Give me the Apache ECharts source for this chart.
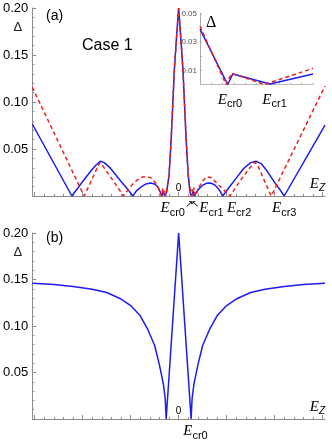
<!DOCTYPE html>
<html style="height: 100%">
    <head>
        <meta charset="utf-8">
        <title>Case 1</title>
    </head>
    <body style="height: 100%; margin: 0; background: #fff">
        <div id="container" style="width: 332px; height: 441px"></div>
        <script src="https://cdn.jsdelivr.net/npm/echarts@6/dist/echarts.min.js"></script>
        <script>
            // panel (a): gap vs E_z, blue solid and red dashed
            let blueA = [
                [-3.05, 0.0766], [-2.225, 0], [-2.1, 0.0085], [-2.0, 0.0155], [-1.9, 0.022], [-1.8, 0.0285],
                [-1.72, 0.033], [-1.635, 0.037], [-1.55, 0.0355], [-1.45, 0.031], [-1.35, 0.025], [-1.2, 0.0155],
                [-1.05, 0.0065], [-0.954, 0], [-0.88, 0.0055], [-0.78, 0.0098], [-0.68, 0.0128], [-0.58, 0.0138],
                [-0.5, 0.0128], [-0.43, 0.0095], [-0.35, 0], [-0.32, 0.005], [-0.29, 0], [-0.25, 0.004],
                [-0.2, 0.022], [-0.156, 0.06], [-0.09, 0.134], [-0.045, 0.168], [0, 0.2], [0.045, 0.168],
                [0.09, 0.134], [0.156, 0.06], [0.2, 0.022], [0.24, 0.003], [0.27, 0], [0.3, 0.005], [0.33, 0],
                [0.4, 0.0065], [0.5, 0.0115], [0.58, 0.0135], [0.66, 0.0138], [0.75, 0.012], [0.84, 0.007],
                [0.92, 0], [1.05, 0.009], [1.2, 0.019], [1.35, 0.029], [1.5, 0.0355], [1.61, 0.037],
                [1.72, 0.0345], [1.85, 0.026], [2.0, 0.0145], [2.1, 0.0075], [2.2, 0], [3.05, 0.0755]
            ];
            let redA = [
                [-3.05, 0.1156], [-1.97, 0], [-1.85, 0.013], [-1.75, 0.024], [-1.68, 0.032], [-1.64, 0.0355],
                [-1.58, 0.032], [-1.45, 0.0225], [-1.3, 0.0115], [-1.15, 0], [-1.05, 0.007], [-0.95, 0.013],
                [-0.85, 0.0175], [-0.75, 0.0203], [-0.66, 0.0208], [-0.57, 0.019], [-0.48, 0.014], [-0.4, 0.006],
                [-0.36, 0], [-0.33, 0.0085], [-0.31, 0], [-0.29, 0.006], [-0.27, 0], [-0.2, 0.022],
                [-0.156, 0.06], [-0.09, 0.134], [-0.045, 0.168], [0, 0.2], [0.045, 0.168], [0.09, 0.134],
                [0.156, 0.06], [0.2, 0.022], [0.26, 0], [0.28, 0.007], [0.3, 0], [0.32, 0.009], [0.35, 0],
                [0.42, 0.009], [0.5, 0.016], [0.59, 0.0205], [0.68, 0.0195], [0.8, 0.0135], [0.95, 0.006],
                [1.07, 0], [1.2, 0.01], [1.35, 0.021], [1.5, 0.031], [1.59, 0.036], [1.65, 0.0325],
                [1.78, 0.017], [1.93, 0], [3.05, 0.117]
            ];

            // inset of panel (a)
            let blueInset = [[0, 0.039], [0.245, 0], [0.29, 0.0074], [0.62, 0.0003], [1, 0.0074]];
            let redInset = [[0, 0.041], [0.23, 0], [0.28, 0.0079], [0.57, 0], [1, 0.0114]];

            // panel (b)
            let blueB = [
                [-3.05, 0.146], [-2.6, 0.1445], [-2.2, 0.1425], [-1.8, 0.1395], [-1.5, 0.136], [-1.2, 0.129],
                [-1.0, 0.122], [-0.8, 0.111], [-0.65, 0.097], [-0.5, 0.079], [-0.4, 0.058], [-0.32, 0.038],
                [-0.28, 0.022], [-0.26, 0], [-0.13, 0.1], [0, 0.2], [0.13, 0.1], [0.26, 0], [0.28, 0.022],
                [0.32, 0.038], [0.4, 0.058], [0.5, 0.079], [0.65, 0.097], [0.8, 0.111], [1.0, 0.122],
                [1.2, 0.129], [1.5, 0.136], [1.8, 0.1395], [2.2, 0.1425], [2.6, 0.1445], [3.05, 0.146]
            ];

            // axis marks
            let majorTicks = [-3, -2, -1, 0, 1, 2, 3];
            let minorTicks = [];
            for (let i = -15; i <= 15; i++) {
                if (i % 5 !== 0) minorTicks.push(i / 5);
            }
            let labelsA1 = { "-0.04": "{e|E}{s|cr0}{a|↗}", "1.26": "{e|E}{s|cr2}" };
            let labelsA2 = { "0.6": "{a|↖}{e|E}{s|cr1}", "2.2": "{e|E}{s|cr3}" };
            let labelsB = { "0.35": "{e|E}{s|cr0}" };
            let labelsInset = { "0.265": "{e|E}{s|cr0}", "0.66": "{e|E}{s|cr1}" };

            const BLUE = "#1c1cf0";
            const RED = "#f21c1c";
            const AXIS = "#8c8c8c";
            const SANS = "Liberation Sans";
            const SERIF = "Liberation Serif";

            let rich = {
                e: { fontFamily: SERIF, fontStyle: "italic", fontSize: 15, color: "#000" },
                s: { fontFamily: SANS, fontSize: 11, color: "#000", padding: [8, 0, 0, 0] },
                a: { fontFamily: SANS, fontSize: 10, color: "#000", padding: [0, 0, 8, 0] }
            };

            function mainX(grid) {
                return {
                    type: "value", gridIndex: grid, position: "bottom", min: -3.05, max: 3.05,
                    axisLine: { onZero: false, lineStyle: { color: AXIS, width: 1 } },
                    axisTick: { inside: true, length: 4, customValues: majorTicks, lineStyle: { color: AXIS } },
                    axisLabel: { inside: true, customValues: [0], formatter: () => "0", fontFamily: SANS, fontSize: 10, color: "#000", margin: 3 },
                    splitLine: { show: false },
                    name: "{e|E}{z|Z}",
                    nameLocation: "end",
                    nameGap: 0,
                    nameTextStyle: {
                        align: "right", verticalAlign: "bottom", padding: [0, 0, 3, 0],
                        rich: {
                            e: { fontFamily: SERIF, fontStyle: "italic", fontSize: 15, color: "#000" },
                            z: { fontFamily: SANS, fontStyle: "italic", fontSize: 10, color: "#000", padding: [7, 0, 0, 0] }
                        }
                    }
                };
            }

            function labelX(grid, labels, ticks) {
                return {
                    type: "value", gridIndex: grid, position: "bottom", min: -3.05, max: 3.05,
                    axisLine: { show: false, onZero: false },
                    axisTick: { show: ticks, inside: true, length: 2, customValues: minorTicks, lineStyle: { color: AXIS } },
                    axisLabel: {
                        customValues: Object.keys(labels).map(Number),
                        formatter: v => labels[String(v)] || "",
                        margin: 3, rich: rich, hideOverlap: false
                    },
                    splitLine: { show: false }
                };
            }

            function mainY(grid) {
                return {
                    type: "value", gridIndex: grid, position: "left", min: 0, max: 0.2, interval: 0.05,
                    axisLine: { show: true, onZero: false, lineStyle: { color: AXIS } },
                    axisTick: { inside: true, length: 4, lineStyle: { color: AXIS } },
                    minorTick: { show: true, splitNumber: 5, length: 2, lineStyle: { color: AXIS } },
                    axisLabel: { formatter: v => (v === 0 ? "" : v.toFixed(2)), fontFamily: SANS, fontSize: 13, color: "#000", margin: 4 },
                    splitLine: { show: false },
                    name: "Δ",
                    nameLocation: "end",
                    nameGap: -19,
                    nameTextStyle: { align: "right", verticalAlign: "middle", padding: [0, 10, 0, 0], fontFamily: SANS, fontSize: 13, color: "#222" }
                };
            }

            function drawChart() {
                let dom = document.getElementById("container");
                let chart = echarts.init(dom, null, { renderer: "canvas" });
                let option = {
                    animation: false,
                    backgroundColor: "#fff",
                    title: [
                        { text: "(a)", left: 41, top: 4, textStyle: { fontFamily: SANS, fontSize: 14, fontWeight: "normal", color: "#000" } },
                        { text: "Case 1", left: 77, top: 33, textStyle: { fontFamily: SANS, fontSize: 16, fontWeight: "normal", color: "#000" } },
                        { text: "(b)", left: 41, top: 226, textStyle: { fontFamily: SANS, fontSize: 14, fontWeight: "normal", color: "#000" } }
                    ],
                    grid: [
                        { left: 32, top: 8, width: 293, height: 188 },
                        { left: 200, top: 13.5, width: 113, height: 71 },
                        { left: 32, top: 233, width: 293, height: 186 }
                    ],
                    xAxis: [
                        mainX(0),
                        labelX(0, labelsA1, true),
                        {
                            type: "value", gridIndex: 1, position: "bottom", min: 0, max: 1, interval: 0.1,
                            axisLine: { onZero: false, lineStyle: { color: "#bbb" } },
                            axisTick: { inside: true, length: 2, lineStyle: { color: "#bbb" } },
                            axisLabel: {
                                customValues: Object.keys(labelsInset).map(Number),
                                formatter: v => labelsInset[String(v)] || "",
                                margin: 6, rich: rich, hideOverlap: false
                            },
                            splitLine: { show: false }
                        },
                        mainX(2),
                        labelX(2, labelsB, true),
                        labelX(0, labelsA2, false)
                    ],
                    yAxis: [
                        mainY(0),
                        {
                            type: "value", gridIndex: 1, position: "left", min: 0, max: 0.05, interval: 0.01,
                            axisLine: { show: true, onZero: false, lineStyle: { color: "#aaa" } },
                            axisTick: { inside: true, length: 2, lineStyle: { color: "#aaa" } },
                            axisLabel: {
                                formatter: v => ([0.01, 0.03, 0.05].some(t => Math.abs(t - v) < 1e-9) ? v.toFixed(2) : ""),
                                fontFamily: SANS, fontSize: 8, color: "#555", margin: 3
                            },
                            splitLine: { show: false },
                            name: "Δ",
                            nameLocation: "end",
                            nameGap: -9,
                            nameTextStyle: { align: "left", verticalAlign: "middle", padding: [0, 0, 0, 6], fontFamily: SERIF, fontSize: 16, color: "#000" }
                        },
                        mainY(2)
                    ],
                    series: [
                        { type: "line", xAxisIndex: 0, yAxisIndex: 0, data: blueA, showSymbol: false, lineStyle: { color: BLUE, width: 1.5 }, z: 3 },
                        { type: "line", xAxisIndex: 0, yAxisIndex: 0, data: redA, showSymbol: false, lineStyle: { color: RED, width: 1.5, type: [4, 3] }, z: 4 },
                        { type: "line", xAxisIndex: 2, yAxisIndex: 1, data: blueInset, showSymbol: false, lineStyle: { color: BLUE, width: 1.5 }, z: 3 },
                        { type: "line", xAxisIndex: 2, yAxisIndex: 1, data: redInset, showSymbol: false, lineStyle: { color: RED, width: 1.5, type: [4, 3] }, z: 4 },
                        { type: "line", xAxisIndex: 3, yAxisIndex: 2, data: blueB, showSymbol: false, lineStyle: { color: BLUE, width: 1.5 }, z: 3 }
                    ]
                };

                chart.setOption(option);
            }

            drawChart();
        </script>
    </body>
</html>
